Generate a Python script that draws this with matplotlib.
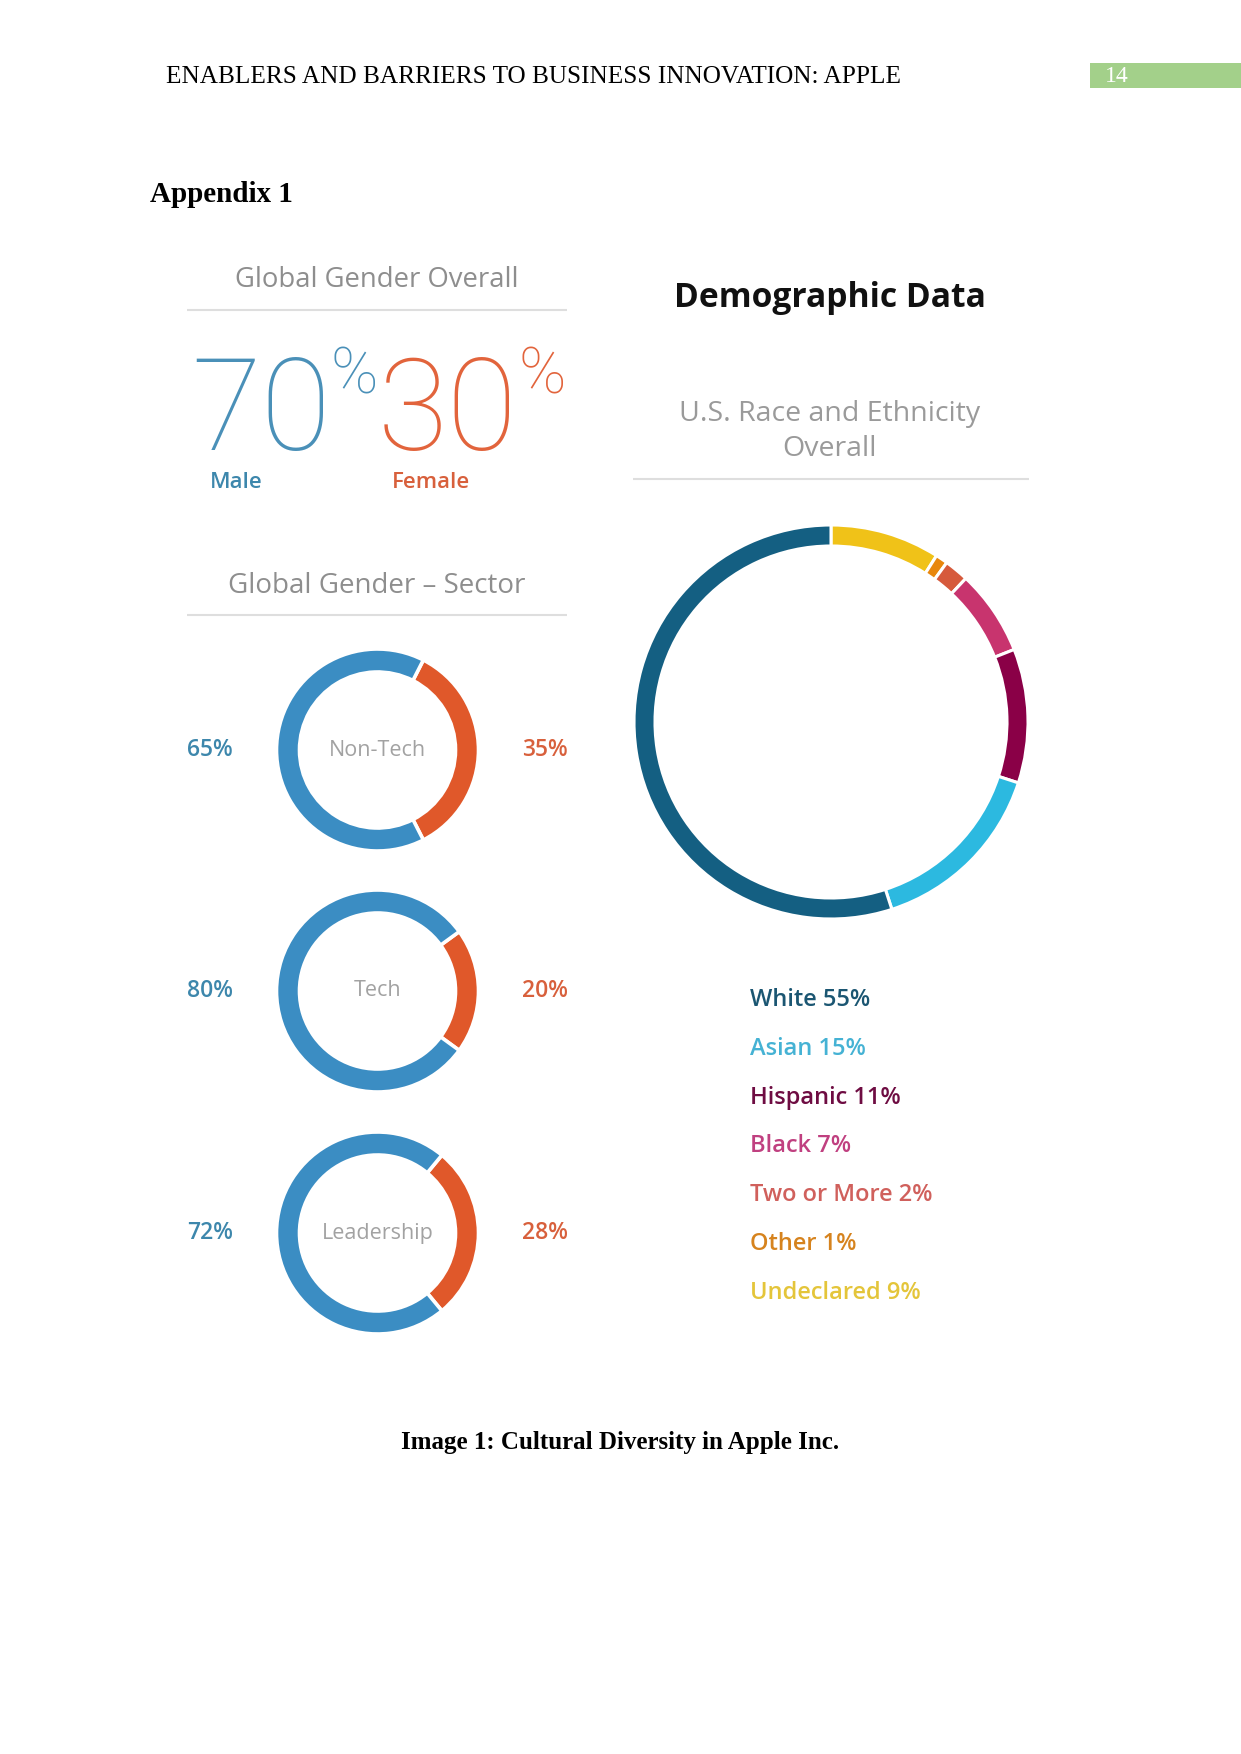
import matplotlib
matplotlib.use("Agg")
import matplotlib.pyplot as plt
from matplotlib import font_manager as fm
from matplotlib.patches import Rectangle

# ---------------- data ----------------
header_text = "ENABLERS AND BARRIERS TO BUSINESS INNOVATION: APPLE"
page_number = "14"
appendix_title = "Appendix 1"
caption = "Image 1: Cultural Diversity in Apple Inc."

overall_title = "Global Gender Overall"
overall_labels = ["Male", "Female"]
overall_values = [70, 30]

sector_title = "Global Gender \u2013 Sector"
sector_names = ["Non-Tech", "Tech", "Leadership"]
sector_male = [65, 80, 72]
sector_female = [35, 20, 28]

demo_title = "Demographic Data"
race_title = ["U.S. Race and Ethnicity", "Overall"]
race_labels = ["White", "Asian", "Hispanic", "Black", "Two or More", "Other", "Undeclared"]
race_values = [55, 15, 11, 7, 2, 1, 9]
race_colors = ["#145f82", "#2cb9e0", "#8a0047", "#c8346e", "#d65a3c", "#e8870d", "#f0c218"]
race_text_colors = ["#1b5672", "#45b2d4", "#6e0c42", "#c04080", "#d0605c", "#d6831e", "#e4c53a"]

BLUE = "#3b8dc3"
ORANGE = "#e0582a"
BLUE_TXT = "#3d87ac"
ORANGE_TXT = "#d8603c"
GREY = "#8e8e8e"
LINE = "#dedede"

# ---------------- fonts ----------------
def _w(v):
    if isinstance(v, str):
        return fm.weight_dict.get(v, 400)
    return int(v)

names = {}
for f in fm.fontManager.ttflist:
    names.setdefault(f.name, set()).add(_w(f.weight))

SANS = "Open Sans" if "Open Sans" in names else "DejaVu Sans"
thin_family, thin_weight = SANS, 300
for fam in ["Roboto", "Lato", "Open Sans", "Noto Sans", "Inter", "DejaVu Sans"]:
    if fam in names and min(names[fam]) <= 300:
        thin_family = fam
        thin_weight = min(names[fam])
        break
SERIF = "Liberation Serif" if "Liberation Serif" in names else "DejaVu Serif"

W, H = 1241, 1754
fig = plt.figure(figsize=(W / 100, H / 100), dpi=100)
fig.patch.set_facecolor("white")
ax = fig.add_axes([0, 0, 1, 1])


def Y(y):
    return H - y


def txt(x, y, s, size, color="black", family=None, weight="normal", ha="left", va="center"):
    ax.text(x, Y(y), s, fontsize=size, color=color, family=family or SANS,
            fontweight=weight, ha=ha, va=va)


def rule(x0, x1, y):
    ax.plot([x0, x1], [Y(y), Y(y)], color=LINE, lw=1.5, solid_capstyle="butt")


# header
txt(166, 77, header_text, 18.2, family=SERIF)
ax.add_patch(Rectangle((1090, Y(88)), 151, 25, facecolor="#a3d08a", edgecolor="none"))
txt(1105, 76, page_number, 17, color="white", family=SERIF)
txt(150, 194, appendix_title, 21, family=SERIF, weight="bold")

# Global Gender Overall
txt(377, 280, overall_title, 19.8, color=GREY, ha="center")
rule(187, 567, 310)
big_cols = ["#4a90b8", "#e2643c"]
num_centers = [261, 447]
pct_lefts = [330, 518]
lab_lefts = [210, 392]
for i in range(2):
    ax.text(num_centers[i], Y(450), str(overall_values[i]), fontsize=92,
            color=big_cols[i], family=thin_family, fontweight=thin_weight,
            ha="center", va="baseline")
    ax.text(pct_lefts[i], Y(394), "%", fontsize=46, color=big_cols[i],
            family=thin_family, fontweight=thin_weight, ha="left", va="baseline")
    txt(lab_lefts[i], 483, overall_labels[i], 16,
        color=[BLUE_TXT, ORANGE_TXT][i], weight="semibold")

# Global Gender - Sector
txt(377, 586, sector_title, 20, color=GREY, ha="center")
rule(187, 567, 615)
cx = 377.5
cys = [750, 991, 1233]
for name, m, f, cy in zip(sector_names, sector_male, sector_female, cys):
    ax.pie([f, m], colors=[ORANGE, BLUE], startangle=180 * f / 100,
           counterclock=False, radius=101, center=(cx, Y(cy)),
           wedgeprops=dict(width=23, edgecolor="white", linewidth=2.6))
    txt(cx, cy, name, 15.5, color="#a2a2a2", ha="center")
    txt(210, cy, f"{m}%", 16.5, color=BLUE_TXT, ha="center", weight="semibold")
    txt(545, cy, f"{f}%", 16.5, color=ORANGE_TXT, ha="center", weight="semibold")

# Demographic Data
txt(830, 298, demo_title, 24.2, ha="center", weight="bold", color="#111111")
txt(830, 414, race_title[0], 20.5, color="#9a9a9a", ha="center")
txt(830, 449, race_title[1], 20.5, color="#9a9a9a", ha="center")
rule(633, 1029, 479)
ax.pie(race_values[::-1], colors=race_colors[::-1], startangle=90, counterclock=False,
       radius=197, center=(831, Y(722)),
       wedgeprops=dict(width=21, edgecolor="white", linewidth=2.2))
for i, (lab, v, c) in enumerate(zip(race_labels, race_values, race_text_colors)):
    txt(750, 1000 + i * 48.8, f"{lab} {v}%", 17, color=c, weight="semibold")

# caption
txt(620, 1442, caption, 18, family=SERIF, weight="bold", ha="center")

ax.set_xlim(0, W)
ax.set_ylim(0, H)
ax.set_aspect("equal")
ax.axis("off")
fig.savefig("out.png", dpi=100, facecolor="white")
